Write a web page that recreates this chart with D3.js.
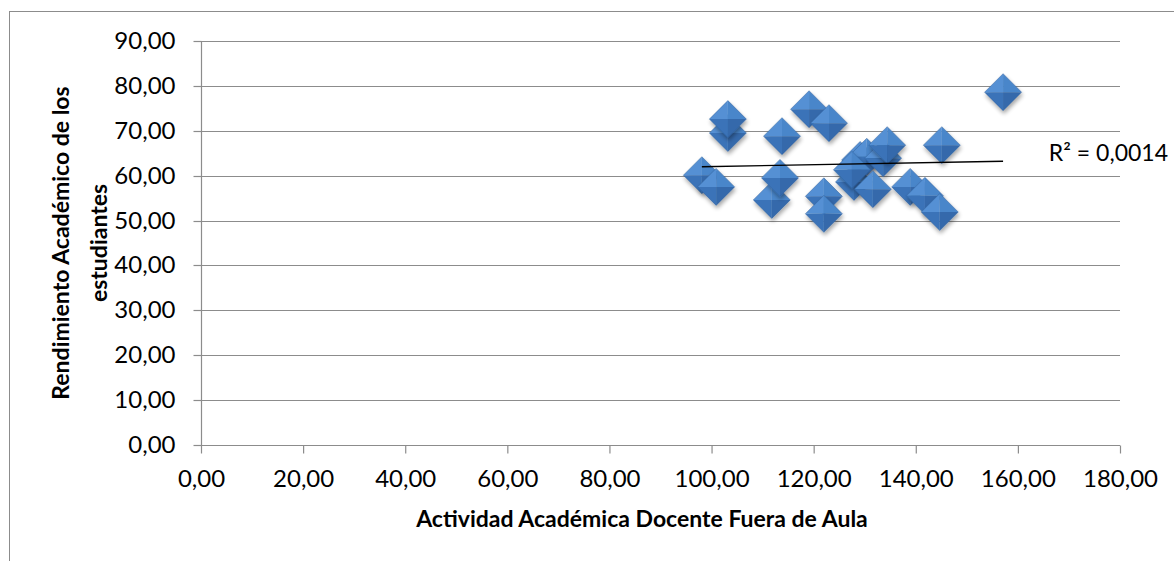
<!DOCTYPE html>
<html>
<head>
<meta charset="utf-8">
<script src="https://cdn.jsdelivr.net/npm/d3@7"></script>
<style>
  html, body { margin: 0; padding: 0; background: #fff; }
  svg { display: block; }
  text { font-family: Lato, "Open Sans", sans-serif; fill: #000; }
</style>
</head>
<body>
<svg id="chart" width="1174" height="561"></svg>
<script>
// ---- data ----
const xValues = [98.1, 100.9, 103.2, 103.2, 111.8, 113.4, 113.8, 119.1, 123.0, 122.0, 122.0,
                 127.9, 129.1, 130.4, 133.6, 134.4, 127.5, 131.6, 138.9, 141.8, 144.7, 145.1, 157.1];
const yValues = [60.1, 57.5, 69.5, 72.6, 54.6, 59.5, 68.8, 74.8, 71.7, 55.4, 51.5,
                 58.6, 63.5, 64.2, 63.9, 66.8, 61.3, 57.0, 57.5, 55.5, 51.9, 66.8, 78.6];
const xTicks = [0, 20, 40, 60, 80, 100, 120, 140, 160, 180];
const yTicks = [0, 10, 20, 30, 40, 50, 60, 70, 80, 90];
const trendX = [98.1, 157.1];
const trendY = [62.0, 63.2];
const r2Label = "R² = 0,0014";
const xTitle = "Actividad Académica Docente Fuera de Aula";
const yTitleLines = ["Rendimiento Académico de los", "estudiantes"];

const fmt = v => d3.format(".2f")(v).replace(".", ",");

const svg = d3.select("#chart");
const plot = { left: 201, right: 1120, top: 41, bottom: 445 };
const x = d3.scaleLinear().domain([0, 180]).range([plot.left, plot.right]);
const y = d3.scaleLinear().domain([0, 90]).range([plot.bottom, plot.top]);

// chart outer border
svg.append("rect").attr("x", 9.5).attr("y", 11.5).attr("width", 1200).attr("height", 600)
  .attr("fill", "none").attr("stroke", "#8c8c8c").attr("stroke-width", 1);

const gridColor = "#8c8c8c";
const tickFont = 24;

// gridlines
svg.append("g").selectAll("line").data(yTicks.filter(d => d > 0)).join("line")
  .attr("x1", plot.left).attr("x2", plot.right)
  .attr("y1", d => Math.round(y(d)) + 0.5).attr("y2", d => Math.round(y(d)) + 0.5)
  .attr("stroke", gridColor).attr("stroke-width", 1.2);

// y axis
const yAxis = d3.axisLeft(y).tickValues(yTicks).tickSize(8).tickPadding(18).tickFormat(fmt);
const gy = svg.append("g").attr("transform", `translate(${plot.left + 0.5},0)`).call(yAxis);
gy.select(".domain").attr("stroke", gridColor).attr("stroke-width", 1.2).attr("d", `M0,${plot.top}V${plot.bottom}`);
gy.selectAll(".tick line").attr("stroke", gridColor).attr("stroke-width", 1.2);
gy.selectAll(".tick").attr("transform", d => `translate(0,${Math.round(y(d)) + 0.5})`);
gy.selectAll("text").attr("font-size", tickFont).attr("font-family", "Lato, sans-serif").attr("fill", "#000");

// x axis
const xAxis = d3.axisBottom(x).tickValues(xTicks).tickSize(8).tickPadding(16).tickFormat(fmt);
const gx = svg.append("g").attr("transform", `translate(0,${plot.bottom + 0.5})`).call(xAxis);
gx.select(".domain").attr("stroke", gridColor).attr("stroke-width", 1.2).attr("d", `M${plot.left},0H${plot.right}`);
gx.selectAll(".tick line").attr("stroke", gridColor).attr("stroke-width", 1.2);
gx.selectAll("text").attr("font-size", tickFont).attr("font-family", "Lato, sans-serif").attr("fill", "#000");

// axis titles
svg.append("text").attr("x", 642).attr("y", 527).attr("text-anchor", "middle")
  .attr("font-size", 23).attr("font-weight", "bold").text(xTitle);

const yt = svg.append("text").attr("transform", "translate(0,243) rotate(-90)")
  .attr("text-anchor", "middle").attr("font-size", 23).attr("font-weight", "bold");
yTitleLines.forEach((t, i) => {
  yt.append("tspan").attr("x", 0).attr("y", 69 + i * 38).text(t);
});

// marker defs
const defs = svg.append("defs");
const f = defs.append("filter").attr("id", "shadow").attr("x", "-50%").attr("y", "-50%").attr("width", "200%").attr("height", "200%");
f.append("feGaussianBlur").attr("in", "SourceAlpha").attr("stdDeviation", 2).attr("result", "b");
f.append("feOffset").attr("in", "b").attr("dx", 1).attr("dy", 3).attr("result", "o");
f.append("feComponentTransfer").attr("in", "o").attr("result", "o2")
  .append("feFuncA").attr("type", "linear").attr("slope", 0.35);
const m = f.append("feMerge");
m.append("feMergeNode").attr("in", "o2");
m.append("feMergeNode").attr("in", "SourceGraphic");

const points = xValues.map((v, i) => ({ x: v, y: yValues[i] }));
const r = 18.5;
const facets = [
  { d: `M0,${-r}L${-r},0L0,0Z`, fill: "#5590d4" },   // top-left
  { d: `M0,${-r}L${r},0L0,0Z`, fill: "#4a86ca" },    // top-right
  { d: `M${-r},0L0,${r}L0,0Z`, fill: "#3a73b8" },    // bottom-left
  { d: `M${r},0L0,${r}L0,0Z`, fill: "#3469ab" }      // bottom-right
];

const g = svg.append("g");
const mk = g.selectAll("g.pt").data(points).join("g").attr("class", "pt")
  .attr("transform", d => `translate(${x(d.x)},${y(d.y)})`)
  .attr("filter", "url(#shadow)");
facets.forEach(fc => {
  mk.append("path").attr("d", fc.d).attr("fill", fc.fill);
});
mk.append("path").attr("d", `M0,${-r}L${r},0L0,${r}L${-r},0Z`)
  .attr("fill", "none").attr("stroke", "#2f5f99").attr("stroke-width", 0.8).attr("stroke-opacity", 0.6);

// trend line
svg.append("line")
  .attr("x1", x(trendX[0])).attr("y1", y(trendY[0]))
  .attr("x2", x(trendX[1])).attr("y2", y(trendY[1]))
  .attr("stroke", "#000").attr("stroke-width", 1.4);

// R2 label
svg.append("text").attr("x", 1168).attr("y", 161).attr("text-anchor", "end")
  .attr("font-size", 23).text(r2Label);
</script>
</body>
</html>
